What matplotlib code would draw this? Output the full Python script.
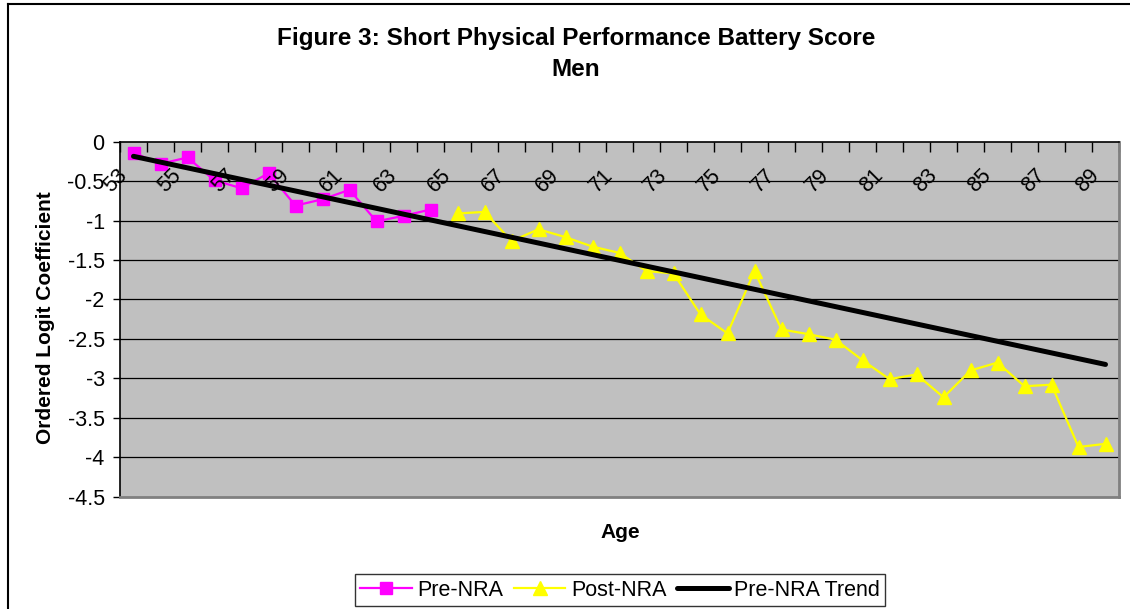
import matplotlib
matplotlib.use("Agg")
import matplotlib.pyplot as plt
import numpy as np

plt.rcParams['font.family'] = ['Liberation Sans', 'DejaVu Sans']

# data
pre_ages = list(range(53, 65))
pre_vals = [-0.14, -0.28, -0.20, -0.49, -0.59, -0.40, -0.81, -0.73, -0.61, -1.01, -0.94, -0.86]
post_ages = list(range(65, 90))
post_vals = [-0.91, -0.89, -1.26, -1.11, -1.21, -1.33, -1.41, -1.64, -1.67, -2.19,
             -2.43, -1.64, -2.38, -2.44, -2.51, -2.77, -3.01, -2.95, -3.24, -2.90,
             -2.80, -3.10, -3.08, -3.87, -3.83]
ages = list(range(53, 90))
y_ticks = [0, -0.5, -1, -1.5, -2, -2.5, -3, -3.5, -4, -4.5]
y_labels = ['0', '-0.5', '-1', '-1.5', '-2', '-2.5', '-3', '-3.5', '-4', '-4.5']

# category positions
pos = {a: i for i, a in enumerate(ages)}
pre_x = [pos[a] for a in pre_ages]
post_x = [pos[a] for a in post_ages]
all_x = np.arange(len(ages))

# linear trend fitted to pre-NRA, extended over all ages
slope, icpt = np.polyfit(pre_x, pre_vals, 1)
trend = slope * all_x + icpt

fig = plt.figure(figsize=(11.3, 6.09), dpi=100)
ax = fig.add_axes([120 / 1130, 1 - 496.7 / 609, 999 / 1130, 355 / 609])
ax.set_facecolor('#C0C0C0')

for y in y_ticks[1:-1]:
    ax.axhline(y, color='black', lw=0.9, zorder=1)

ax.plot(pre_x, pre_vals, color='#FF00FF', lw=1.6, marker='s', ms=8.5,
        markeredgecolor='#FF00FF', label='Pre-NRA', zorder=3)
ax.plot(post_x, post_vals, color='#FFFF00', lw=1.6, marker='^', ms=10,
        markeredgecolor='#FFFF00', label='Post-NRA', zorder=3)
ax.plot(all_x, trend, color='black', lw=3.6, solid_capstyle='round',
        label='Pre-NRA Trend', zorder=4)

ax.set_xlim(-0.5, len(ages) - 0.5)
ax.set_ylim(-4.5, 0)

ax.set_yticks(y_ticks)
ax.set_yticklabels(y_labels, fontsize=15.5)
ax.tick_params(axis='y', direction='out', length=5, width=1, pad=6)

# x axis sits at y=0 (top), ticks between categories pointing down
ax.set_xticks(np.arange(-0.5, len(ages), 1.0))
ax.set_xticklabels([])
ax.tick_params(axis='x', which='major', bottom=False, top=True, direction='in',
               length=7, width=1, labelbottom=False, labeltop=False)
for a in ages[::2]:
    ax.annotate(str(a), xy=(pos[a], 0), xytext=(-13, -28), textcoords='offset points',
                ha='center', va='center', rotation=45, fontsize=15.5, zorder=5)

for side in ['left', 'top']:
    ax.spines[side].set_color('black')
    ax.spines[side].set_linewidth(1.2)
for side in ['right', 'bottom']:
    ax.spines[side].set_color('#808080')
    ax.spines[side].set_linewidth(2)

fig.text(576 / 1130, 1 - 38 / 609, 'Figure 3: Short Physical Performance Battery Score',
         ha='center', va='center', fontsize=17.5, fontweight='bold')
fig.text(576 / 1130, 1 - 70 / 609, 'Men', ha='center', va='center',
         fontsize=17.5, fontweight='bold')
fig.text(620 / 1130, 1 - 533 / 609, 'Age', ha='center', va='center',
         fontsize=15, fontweight='bold')
fig.text(46 / 1130, 1 - 318 / 609, 'Ordered Logit Coefficient', ha='center', va='center',
         rotation=90, fontsize=15, fontweight='bold')

leg = fig.legend(loc='center', bbox_to_anchor=(620 / 1130, 1 - 590 / 609), ncol=3,
                 fontsize=15.5, frameon=True, fancybox=False, handlelength=2.4,
                 columnspacing=0.5, handletextpad=0.25, borderpad=0.25)
leg.get_frame().set_edgecolor('black')
leg.get_frame().set_linewidth(1)

# chart area border
fig.add_artist(plt.Line2D([8 / 1130, 8 / 1130], [0, 1 - 4 / 609], color='black', lw=1.5,
                          transform=fig.transFigure))
fig.add_artist(plt.Line2D([8 / 1130, 1], [1 - 4 / 609, 1 - 4 / 609], color='black', lw=1.5,
                          transform=fig.transFigure))

fig.savefig('out.png', dpi=100)
